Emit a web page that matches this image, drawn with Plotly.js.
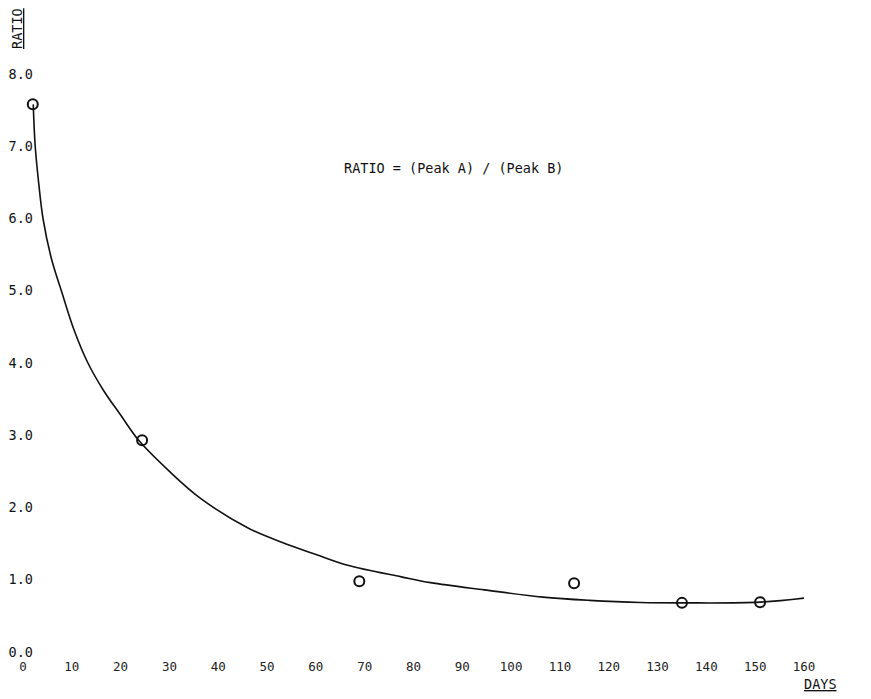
<!DOCTYPE html>
<html>
<head>
<meta charset="utf-8">
<script src="https://cdn.plot.ly/plotly-3.0.1.min.js"></script>
<style>html,body{margin:0;padding:0;background:#fff;}#chart{width:871px;height:699px;}</style>
</head>
<body>
<div id="chart"></div>
<script>
// Measured points
const pointDays = [2, 24.4, 68.9, 112.9, 135, 151];
const pointRatio = [7.58, 2.93, 0.98, 0.95, 0.68, 0.69];

// Hand-drawn fitted curve
const curveDays = [2.1, 2.5, 3.2, 4.1, 5.8, 8, 10.5, 13.3, 16.5, 20, 23.7, 30, 36.3, 46, 53, 60, 66.5, 77.5, 83.5, 94.5, 106.5, 116, 126.5, 135, 151, 160.5];
const curveRatio = [7.58, 7.0, 6.5, 6.0, 5.45, 4.97, 4.45, 4.0, 3.62, 3.28, 2.93, 2.5, 2.13, 1.72, 1.52, 1.35, 1.2, 1.04, 0.96, 0.86, 0.76, 0.715, 0.685, 0.68, 0.69, 0.75];

const xTicks = [0, 10, 20, 30, 40, 50, 60, 70, 80, 90, 100, 110, 120, 130, 140, 150, 160];
const yTicks = [0, 1, 2, 3, 4, 5, 6, 7, 8];
const yTickText = ['0.0', '1.0', '2.0', '3.0', '4.0', '5.0', '6.0', '7.0', '8.0'];

const FONT = 'DejaVu Sans Mono, Liberation Mono, monospace';

const traces = [
  {
    x: curveDays, y: curveRatio, type: 'scatter', mode: 'lines',
    line: {color: '#111', width: 1.6, shape: 'spline', smoothing: 1},
    hoverinfo: 'skip', showlegend: false
  },
  {
    x: pointDays, y: pointRatio, type: 'scatter', mode: 'markers',
    marker: {symbol: 'circle-open', size: 10, color: '#111', line: {color: '#111', width: 2}},
    showlegend: false
  }
];

const layout = {
  width: 871, height: 699,
  margin: {l: 23, r: 67, t: 74, b: 47, pad: 0},
  paper_bgcolor: '#fff', plot_bgcolor: '#fff',
  font: {family: FONT, size: 13, color: '#111'},
  showlegend: false,
  xaxis: {
    range: [0, 160], tickvals: xTicks, ticktext: xTicks.map(String),
    showgrid: false, zeroline: false, showline: false, ticks: '',
    ticklabelstandoff: 5,
    tickfont: {family: FONT, size: 12.5, color: '#222'}
  },
  yaxis: {
    range: [0, 8], tickvals: yTicks, ticktext: yTickText,
    showgrid: false, zeroline: false, showline: false, ticks: '',
    ticklabelstandoff: -11,
    tickfont: {family: FONT, size: 13.5, color: '#111'}
  },
  annotations: [
    {
      text: 'RATIO = (Peak A) / (Peak B)', xref: 'x', yref: 'y', x: 88.2, y: 6.7,
      showarrow: false, font: {family: FONT, size: 13.5, color: '#111'}
    },
    {
      text: '<span style="text-decoration:underline">RATIO</span>', xref: 'paper', yref: 'paper',
      x: -0.0077, y: 1.0796, xanchor: 'center', yanchor: 'middle', textangle: -90, showarrow: false,
      font: {family: FONT, size: 13.5, color: '#111'}
    },
    {
      text: '<span style="text-decoration:underline">DAYS</span>', xref: 'paper', yref: 'paper',
      x: 1.0205, y: -0.0554, xanchor: 'center', yanchor: 'middle', showarrow: false,
      font: {family: FONT, size: 13.5, color: '#111'}
    }
  ]
};

Plotly.newPlot('chart', traces, layout, {displayModeBar: false, staticPlot: true});
</script>
</body>
</html>
